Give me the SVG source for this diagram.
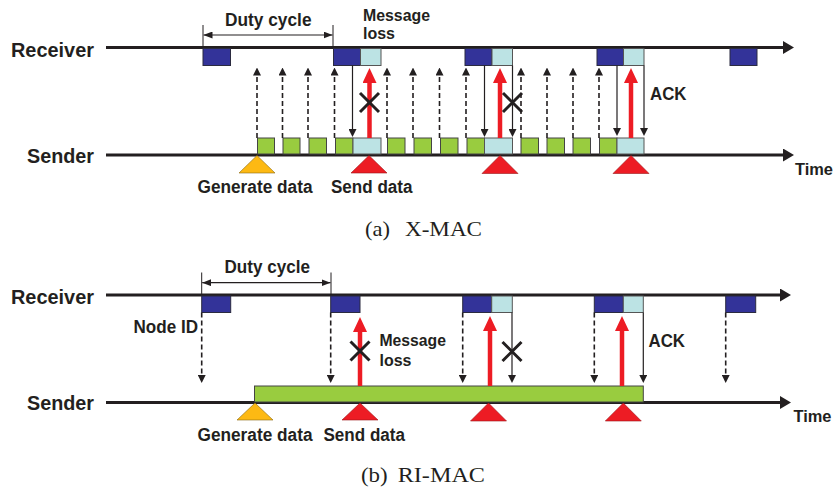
<svg xmlns="http://www.w3.org/2000/svg" width="835" height="494" viewBox="0 0 835 494">
  <style>
    .lbl { font-family: "Liberation Sans", Arial, sans-serif; font-weight: bold; fill: #231f20; }
    .cap { font-family: "Liberation Serif", "Times New Roman", serif; fill: #231f20; }
    .axis { stroke: #231f20; stroke-width: 3; fill: none; marker-end: url(#axisHead); }
    .rx { fill: #333399; stroke: #2b2b40; stroke-width: 1; }
    .ack { fill: #bce3e4; stroke: #555; stroke-width: 1; }
    .beacon { fill: #99cc3f; stroke: #444; stroke-width: 1; }
    .dash { stroke: #231f20; stroke-width: 1.6; stroke-dasharray: 5 3; fill: none; marker-end: url(#tip); }
    .solid { stroke: #231f20; stroke-width: 1.2; fill: none; marker-end: url(#tip); }
    .data { stroke: #ed1c24; stroke-width: 4.5; fill: none; marker-end: url(#redTip); }
    .cross { stroke: #231f20; stroke-width: 3; fill: none; }
    .tick { stroke: #231f20; stroke-width: 1; fill: none; }
    .span { stroke: #231f20; stroke-width: 1.2; fill: none; marker-start: url(#spanTip); marker-end: url(#spanTip); }
    .gen { fill: #fdb913; stroke: #8a6a10; stroke-width: 0.6; }
    .send { fill: #ed1c24; stroke: #9a1418; stroke-width: 0.6; }
  </style>
  <defs>
    <marker id="axisHead" markerUnits="userSpaceOnUse" viewBox="0 0 11 13" refX="0" refY="6.5" markerWidth="11" markerHeight="13" orient="auto">
      <path d="M0,0 L11,6.5 L0,13 z" fill="#231f20"/>
    </marker>
    <marker id="tip" markerUnits="userSpaceOnUse" viewBox="0 0 8 8" refX="0" refY="4" markerWidth="8" markerHeight="8" orient="auto">
      <path d="M0,0 L8,4 L0,8 z" fill="#231f20"/>
    </marker>
    <marker id="redTip" markerUnits="userSpaceOnUse" viewBox="0 0 15 14" refX="0" refY="7" markerWidth="15" markerHeight="14" orient="auto">
      <path d="M0,0 L15,7 L0,14 z" fill="#ed1c24"/>
    </marker>
    <marker id="spanTip" markerUnits="userSpaceOnUse" viewBox="0 0 9 7" refX="9" refY="3.5" markerWidth="9" markerHeight="7" orient="auto-start-reverse">
      <path d="M0,0 L9,3.5 L0,7 z" fill="#231f20"/>
    </marker>
  </defs>
  <rect width="835" height="494" fill="#ffffff"/>

  <!-- ===================== (a) X-MAC ===================== -->
  <g id="xmac">
    <g id="xmac-axes">
      <line class="axis" x1="106" y1="47.5" x2="783" y2="47.5"/>
      <line class="axis" x1="106" y1="155" x2="783" y2="155"/>
      <text class="lbl" x="11" y="56.5" font-size="19.5" textLength="83" lengthAdjust="spacingAndGlyphs">Receiver</text>
      <text class="lbl" x="27" y="162.5" font-size="19.5" textLength="67" lengthAdjust="spacingAndGlyphs">Sender</text>
      <text class="lbl" x="795" y="174.5" font-size="16.5" textLength="38" lengthAdjust="spacingAndGlyphs">Time</text>
    </g>

    <g id="xmac-duty-cycle">
      <line class="tick" x1="203" y1="25" x2="203" y2="47"/>
      <line class="tick" x1="333" y1="25" x2="333" y2="47"/>
      <line class="span" x1="203.5" y1="35" x2="332.5" y2="35"/>
      <text class="lbl" x="225" y="26" font-size="17.5" textLength="86.5" lengthAdjust="spacingAndGlyphs">Duty cycle</text>
    </g>

    <!-- receiver wake-ups -->
    <g id="xmac-rx-1"><rect class="rx" x="203" y="48.5" width="27.5" height="17"/></g>
    <g id="xmac-rx-2"><rect class="rx" x="333.5" y="48.5" width="27" height="17"/><rect class="ack" x="360.5" y="48.5" width="20.5" height="17"/></g>
    <g id="xmac-rx-3"><rect class="rx" x="465" y="48.5" width="27" height="17"/><rect class="ack" x="492" y="48.5" width="20.5" height="17"/></g>
    <g id="xmac-rx-4"><rect class="rx" x="597" y="48.5" width="26.5" height="17"/><rect class="ack" x="623.5" y="48.5" width="20.5" height="17"/></g>
    <g id="xmac-rx-5"><rect class="rx" x="730" y="48.5" width="27" height="17"/></g>

    <!-- sender preamble strobes and data -->
    <g id="xmac-tx">
      <rect class="beacon" x="257.5" y="138" width="17" height="16"/>
      <rect class="beacon" x="283" y="138" width="17" height="16"/>
      <rect class="beacon" x="309" y="138" width="17.5" height="16"/>
      <rect class="beacon" x="335.5" y="138" width="17.5" height="16"/>
      <rect class="ack" x="353" y="138" width="28" height="16"/>
      <rect class="beacon" x="387.5" y="138" width="17.5" height="16"/>
      <rect class="beacon" x="414" y="138" width="17.5" height="16"/>
      <rect class="beacon" x="440.5" y="138" width="17.5" height="16"/>
      <rect class="beacon" x="467" y="138" width="17.5" height="16"/>
      <rect class="ack" x="484.5" y="138" width="28" height="16"/>
      <rect class="beacon" x="521" y="138" width="17.5" height="16"/>
      <rect class="beacon" x="547" y="138" width="17.5" height="16"/>
      <rect class="beacon" x="573" y="138" width="17.5" height="16"/>
      <rect class="beacon" x="599.5" y="138" width="17.5" height="16"/>
      <rect class="ack" x="617" y="138" width="27" height="16"/>
    </g>

    <g id="xmac-events">
      <polygon class="gen" points="257,155.5 275,173 239,173"/>
      <polygon class="send" points="369,155.5 387,173 351,173"/>
      <polygon class="send" points="500,155.5 518,173.5 482,173.5"/>
      <polygon class="send" points="631,155.5 649,173.5 613,173.5"/>
      <text class="lbl" x="197.5" y="193" font-size="17.5" textLength="115" lengthAdjust="spacingAndGlyphs">Generate data</text>
      <text class="lbl" x="331" y="193" font-size="17.5" textLength="81.5" lengthAdjust="spacingAndGlyphs">Send data</text>
    </g>

    <g id="xmac-connectors">
      <line class="dash" x1="257" y1="138" x2="257" y2="75.5"/>
      <line class="dash" x1="282.5" y1="138" x2="282.5" y2="75.5"/>
      <line class="dash" x1="308" y1="138" x2="308" y2="75.5"/>
      <line class="dash" x1="334.5" y1="138" x2="334.5" y2="75.5"/>
      <line class="dash" x1="387" y1="138" x2="387" y2="75.5"/>
      <line class="dash" x1="413" y1="138" x2="413" y2="75.5"/>
      <line class="dash" x1="439.5" y1="138" x2="439.5" y2="75.5"/>
      <line class="dash" x1="466" y1="138" x2="466" y2="75.5"/>
      <line class="dash" x1="521" y1="138" x2="521" y2="75.5"/>
      <line class="dash" x1="547" y1="138" x2="547" y2="75.5"/>
      <line class="dash" x1="573" y1="138" x2="573" y2="75.5"/>
      <line class="dash" x1="599" y1="138" x2="599" y2="75.5"/>

      <line class="solid" x1="352.5" y1="65.5" x2="352.5" y2="129"/>
      <line class="solid" x1="484.5" y1="65.5" x2="484.5" y2="129"/>
      <line class="solid" x1="512.5" y1="65.5" x2="512.5" y2="129"/>
      <line class="solid" x1="617" y1="65.5" x2="617" y2="128"/>
      <line class="solid" x1="644" y1="65.5" x2="644" y2="128"/>

      <line class="data" x1="369.5" y1="138" x2="369.5" y2="83"/>
      <line class="data" x1="500" y1="138" x2="500" y2="83"/>
      <line class="data" x1="631" y1="138" x2="631" y2="83"/>

      <path class="cross" d="M360,93 L379,112 M379,93 L360,112"/>
      <path class="cross" d="M503,93 L522,112 M522,93 L503,112"/>
    </g>

    <g id="xmac-notes">
      <text class="lbl" x="363" y="21" font-size="17" textLength="67" lengthAdjust="spacingAndGlyphs">Message</text>
      <text class="lbl" x="363" y="39" font-size="17" textLength="32" lengthAdjust="spacingAndGlyphs">loss</text>
      <text class="lbl" x="650" y="100" font-size="17.5" textLength="36.5" lengthAdjust="spacingAndGlyphs">ACK</text>
    </g>

    <text class="cap" x="365" y="236" font-size="22" textLength="25" lengthAdjust="spacingAndGlyphs">(a)</text>
    <text class="cap" x="405" y="236" font-size="22" textLength="77" lengthAdjust="spacingAndGlyphs">X-MAC</text>
  </g>

  <!-- ===================== (b) RI-MAC ===================== -->
  <g id="rimac">
    <g id="rimac-axes">
      <line class="axis" x1="106" y1="295" x2="780" y2="295"/>
      <line class="axis" x1="106" y1="402.5" x2="780" y2="402.5"/>
      <text class="lbl" x="11" y="304" font-size="19.5" textLength="83" lengthAdjust="spacingAndGlyphs">Receiver</text>
      <text class="lbl" x="27" y="409.5" font-size="19.5" textLength="67" lengthAdjust="spacingAndGlyphs">Sender</text>
      <text class="lbl" x="793.5" y="421.5" font-size="16.5" textLength="38" lengthAdjust="spacingAndGlyphs">Time</text>
    </g>

    <g id="rimac-duty-cycle">
      <line class="tick" x1="201.7" y1="272.5" x2="201.7" y2="295"/>
      <line class="tick" x1="331" y1="272.5" x2="331" y2="295"/>
      <line class="span" x1="202.2" y1="282.7" x2="330.5" y2="282.7"/>
      <text class="lbl" x="224.5" y="272.5" font-size="17.5" textLength="85.5" lengthAdjust="spacingAndGlyphs">Duty cycle</text>
    </g>

    <!-- receiver wake-ups -->
    <g id="rimac-rx-1"><rect class="rx" x="201.7" y="296" width="29" height="16.5"/></g>
    <g id="rimac-rx-2"><rect class="rx" x="330.7" y="296" width="29.3" height="16.5"/></g>
    <g id="rimac-rx-3"><rect class="rx" x="462.7" y="296" width="29" height="16.5"/><rect class="ack" x="491.7" y="296" width="20.6" height="16.5"/></g>
    <g id="rimac-rx-4"><rect class="rx" x="594.3" y="296" width="29" height="16.5"/><rect class="ack" x="623.3" y="296" width="20" height="16.5"/></g>
    <g id="rimac-rx-5"><rect class="rx" x="725.7" y="296" width="30" height="16.5"/></g>

    <!-- sender waiting period -->
    <g id="rimac-tx"><rect class="beacon" x="254.5" y="386" width="388.8" height="16"/></g>

    <g id="rimac-events">
      <polygon class="gen" points="255,403 273,420 237,420"/>
      <polygon class="send" points="360,403 378,420 342,420"/>
      <polygon class="send" points="488.5,403 506.5,421 470.5,421"/>
      <polygon class="send" points="623.3,403 641.3,421 605.3,421"/>
      <text class="lbl" x="197.5" y="440.7" font-size="17.5" textLength="115" lengthAdjust="spacingAndGlyphs">Generate data</text>
      <text class="lbl" x="323.5" y="440.7" font-size="17.5" textLength="81.5" lengthAdjust="spacingAndGlyphs">Send data</text>
    </g>

    <g id="rimac-connectors">
      <line class="dash" x1="201.7" y1="312.5" x2="201.7" y2="375"/>
      <line class="dash" x1="330.7" y1="312.5" x2="330.7" y2="375"/>
      <line class="dash" x1="462.7" y1="312.5" x2="462.7" y2="375"/>
      <line class="dash" x1="594.3" y1="312.5" x2="594.3" y2="375"/>
      <line class="dash" x1="725.7" y1="312.5" x2="725.7" y2="375"/>

      <line class="solid" x1="512" y1="312.5" x2="512" y2="375"/>
      <line class="solid" x1="643.3" y1="312.5" x2="643.3" y2="375"/>

      <line class="data" x1="360" y1="386" x2="360" y2="332"/>
      <line class="data" x1="490" y1="386" x2="490" y2="331"/>
      <line class="data" x1="622" y1="386" x2="622" y2="331"/>

      <path class="cross" d="M350.5,341.5 L369.5,360.5 M369.5,341.5 L350.5,360.5"/>
      <path class="cross" d="M502.5,342 L521.5,361 M521.5,342 L502.5,361"/>
    </g>

    <g id="rimac-notes">
      <text class="lbl" x="133.5" y="333.3" font-size="17.5" textLength="64.5" lengthAdjust="spacingAndGlyphs">Node ID</text>
      <text class="lbl" x="379.5" y="345.5" font-size="17" textLength="66.5" lengthAdjust="spacingAndGlyphs">Message</text>
      <text class="lbl" x="379.5" y="365.5" font-size="17" textLength="32" lengthAdjust="spacingAndGlyphs">loss</text>
      <text class="lbl" x="648.5" y="346.7" font-size="17.5" textLength="36.5" lengthAdjust="spacingAndGlyphs">ACK</text>
    </g>

    <text class="cap" x="361" y="482" font-size="22" textLength="26.7" lengthAdjust="spacingAndGlyphs">(b)</text>
    <text class="cap" x="397.7" y="482" font-size="22" textLength="87.3" lengthAdjust="spacingAndGlyphs">RI-MAC</text>
  </g>
</svg>
